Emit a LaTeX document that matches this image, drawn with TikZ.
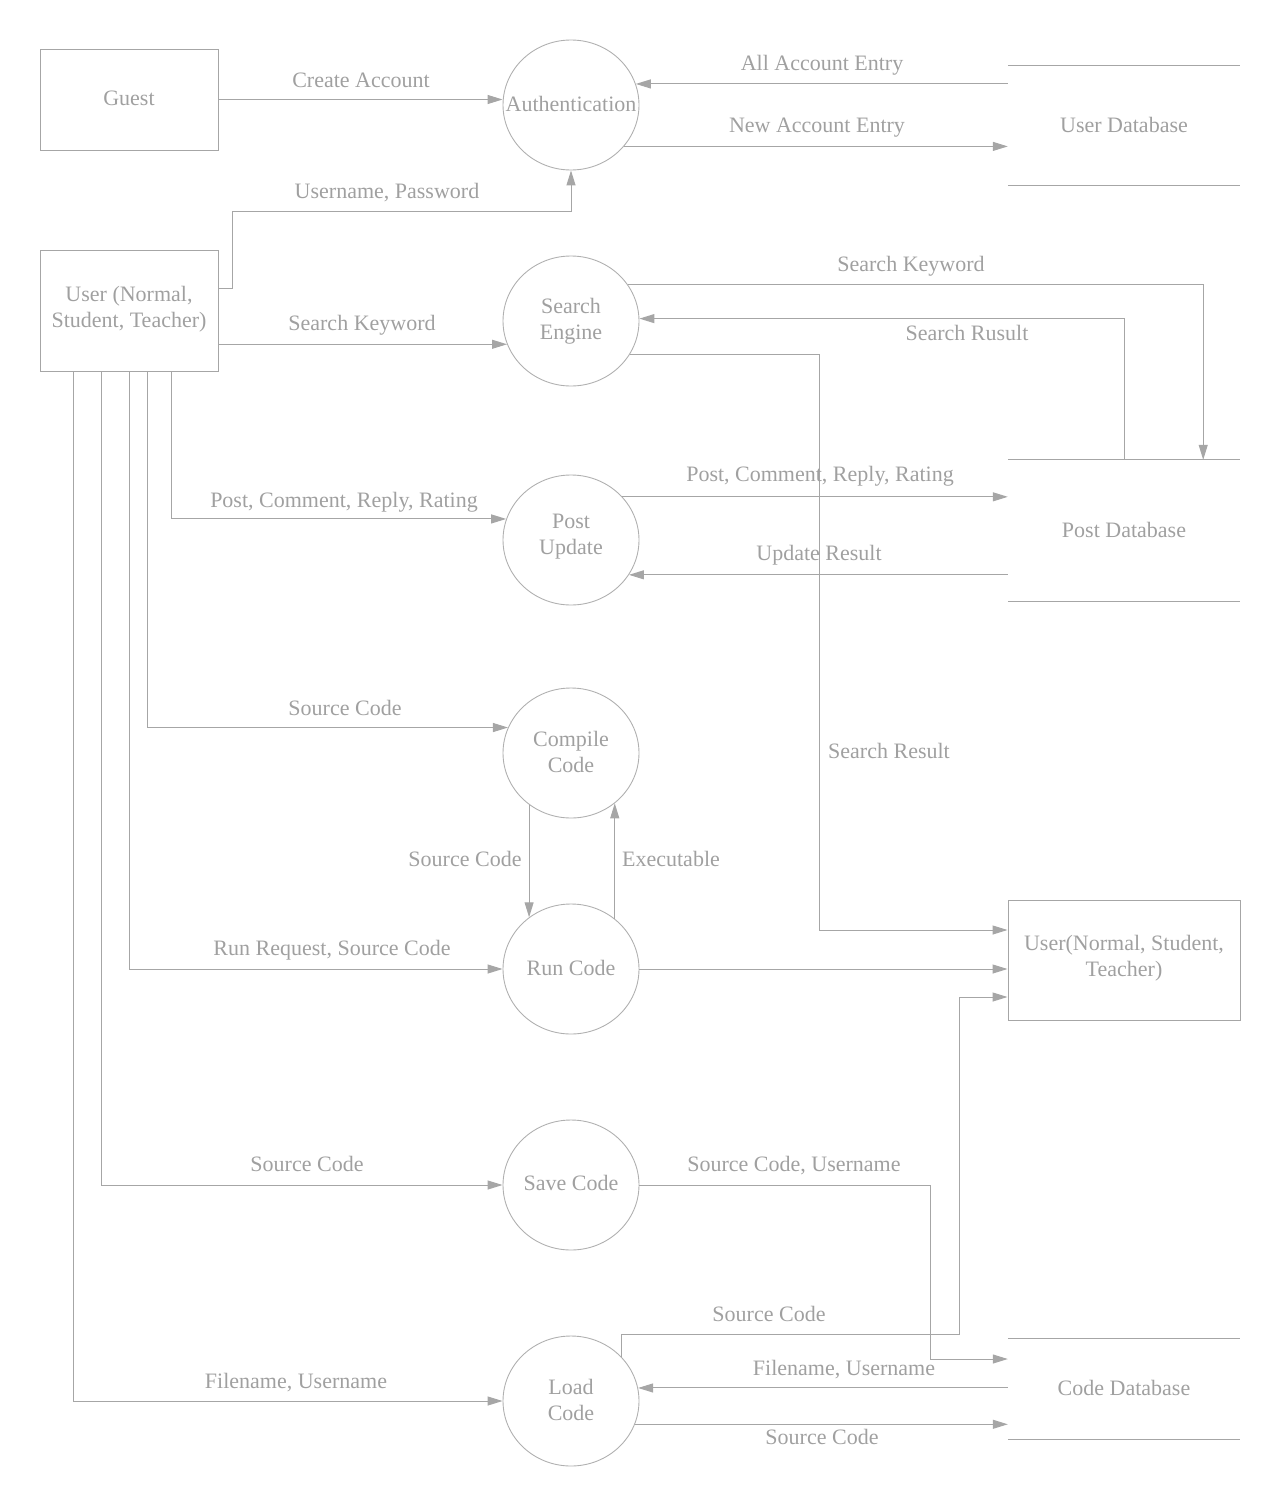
\documentclass[tikz,border=0pt]{standalone}
\usepackage{fontspec}
\setmainfont{Liberation Serif}
\usetikzlibrary{shapes.geometric,arrows.meta,calc}
\definecolor{ln}{RGB}{166,166,166}
\definecolor{cl}{RGB}{176,176,176}
\definecolor{tx}{RGB}{160,160,160}
\begin{document}
\begin{tikzpicture}[x=1pt,y=-1pt, font=\fontsize{22}{26}\selectfont, text=tx,
 proc/.style={ellipse, draw=cl, line width=0.9pt, minimum width=136pt, minimum height=130pt, inner sep=0pt},
 ent/.style={rectangle, draw=ln, line width=1pt, align=center, inner sep=0pt},
 store/.style={rectangle, draw=none, minimum width=232pt, inner sep=0pt, align=center},
 storeline/.style={draw=ln, line width=1pt},
 arr/.style={draw=ln, line width=1pt, -{Triangle[length=15pt,width=9pt]}},
 lbl/.style={inner sep=0pt, text height=15pt, text depth=5pt}]
\useasboundingbox (0,0) rectangle (1280,1507);

% entities
\node[ent, minimum width=178pt, minimum height=101pt] (guest) at (129,99.5) {};
\node[text=tx] (guestt) at (129,98) {Guest};
\node[ent, minimum width=178pt, minimum height=121pt] (user) at (129,310.5) {};
\node[align=center] (usert) at (129,309) {User (Normal,\\Student, Teacher)};
\node[ent, minimum width=232pt, minimum height=120pt] (u2) at (1124,960) {};
\node[align=center] (u2t) at (1124,958) {User(Normal, Student,\\Teacher)};

% data stores
\node[store, minimum height=119pt] (udb) at (1124,125.5) {};
\node (udbt) at (1124,125) {User Database};
\draw[storeline] (udb.north west) -- (udb.north east);
\draw[storeline] (udb.south west) -- (udb.south east);
\node[store, minimum height=141pt] (pdb) at (1124,530.5) {};
\node (pdbt) at (1124,530) {Post Database};
\draw[storeline] (pdb.north west) -- (pdb.north east);
\draw[storeline] (pdb.south west) -- (pdb.south east);
\node[store, minimum height=100pt] (cdb) at (1124,1389) {};
\node (cdbt) at (1124,1388) {Code Database};
\draw[storeline] (cdb.north west) -- (cdb.north east);
\draw[storeline] (cdb.south west) -- (cdb.south east);

% processes
\node[proc] (auth) at (571,105) {};
\node (autht) at (571,104) {Authentication};
\node[proc] (search) at (571,321) {};
\node[align=center] (searcht) at (571,321) {Search\\Engine};
\node[proc] (post) at (571,540) {};
\node[align=center] (postt) at (571,537) {Post\\Update};
\node[proc] (compile) at (571,753) {};
\node[align=center] (compilet) at (571,752) {Compile\\Code};
\node[proc] (run) at (571,969) {};
\node (runt) at (571,968) {Run Code};
\node[proc] (save) at (571,1185) {};
\node (savet) at (571,1183) {Save Code};
\node[proc] (load) at (571,1401) {};
\node[align=center] (loadt) at (571,1400) {Load\\Code};

% helper coordinates
\coordinate (uo1) at ($(user.south west)+(132,0)$);
\coordinate (uo2) at ($(user.south west)+(108,0)$);
\coordinate (uo3) at ($(user.south west)+(90,0)$);
\coordinate (uo4) at ($(user.south west)+(62,0)$);
\coordinate (uo5) at ($(user.south west)+(34,0)$);
\coordinate (kw) at ($(pdb.north east)+(-37,0)$);

% connectors
\draw[arr] (guest.east) -- (guest.east -| auth.west);
\draw[arr] (auth.18 -| udb.west) -- (auth.18);
\draw[arr] (auth.-38) -- (auth.-38 -| udb.west);
\draw[arr] ($(user.east)+(0,-22.5)$) -- ++(14,0) -- ++(0,-77) -| (auth.south);

\draw[arr] (search.200 -| user.east) -- (search.200);
\draw[arr] (search.33) -| (kw);
\draw[arr] (pdb.north) |- (search.2);
\draw[arr] (search.-30) -| ($(u2.west)+(-188,-30)$) -- ($(u2.west)+(0,-30)$);

\draw[arr] (uo1) |- (post.162);
\draw[arr] (post.40) -- (post.40 -| pdb.west);
\draw[arr] (post.-31 -| pdb.west) -- (post.-31);

\draw[arr] (uo2) |- (compile.158);
\draw[arr] (compile.-129.5) -- (run.129.5);
\draw[arr] (run.49) -- (compile.-49);

\draw[arr] (uo3) |- (run.west);
\draw[arr] (run.east) -- (run.east -| u2.west);

\draw[arr] (uo4) |- (save.west);
\draw[arr] (save.east) -| ($(cdb.west)+(-77,-30)$) -- ($(cdb.west)+(0,-30)$);

\draw[arr] (uo5) |- (load.west);
\draw[arr] (load.41) -- ++(0,-22) -| ($(u2.west)+(-48,37)$) -- ($(u2.west)+(0,37)$);
\draw[arr] (load.11 -| cdb.west) -- (load.11);
\draw[arr] (load.-20) -- (load.-20 -| cdb.west);

% labels
\node[lbl] (l1) at (361,82) {Create Account};
\node[lbl] (l2) at (822,65) {All Account Entry};
\node[lbl] (l3) at (817,127) {New Account Entry};
\node[lbl] (l4) at (387,193) {Username, Password};
\node[lbl] (l5) at (362,325) {Search Keyword};
\node[lbl] (l6) at (911,266) {Search Keyword};
\node[lbl] (l7) at (967,335) {Search Rusult};
\node[lbl] (l8) at (889,753) {Search Result};
\node[lbl] (l9) at (344,502) {Post, Comment, Reply, Rating};
\node[lbl] (l10) at (820,476) {Post, Comment, Reply, Rating};
\node[lbl] (l11) at (819,555) {Update Result};
\node[lbl] (l12) at (345,710) {Source Code};
\node[lbl] (l13) at (465,861) {Source Code};
\node[lbl] (l14) at (671,861) {Executable};
\node[lbl] (l15) at (332,950) {Run Request, Source Code};
\node[lbl] (l16) at (307,1166) {Source Code};
\node[lbl] (l17) at (794,1166) {Source Code, Username};
\node[lbl] (l18) at (769,1316) {Source Code};
\node[lbl] (l19) at (296,1383) {Filename, Username};
\node[lbl] (l20) at (844,1370) {Filename, Username};
\node[lbl] (l21) at (822,1439) {Source Code};
\end{tikzpicture}
\end{document}
